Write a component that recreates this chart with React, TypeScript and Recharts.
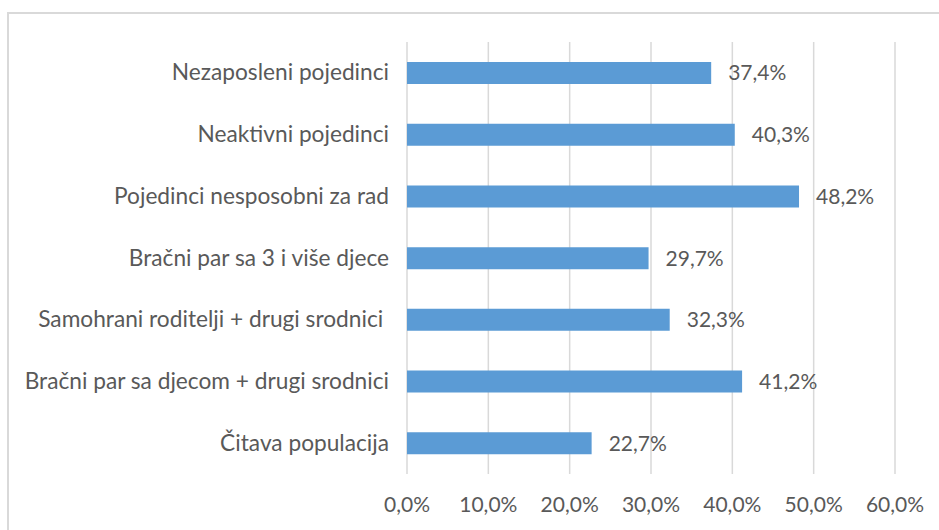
import { BarChart, Bar, XAxis, YAxis, CartesianGrid, LabelList } from "recharts";

const categories = [
  "Nezaposleni pojedinci",
  "Neaktivni pojedinci",
  "Pojedinci nesposobni za rad",
  "Bračni par sa 3 i više djece",
  "Samohrani roditelji + drugi srodnici ",
  "Bračni par sa djecom + drugi srodnici",
  "Čitava populacija",
];
const rates = [37.4, 40.3, 48.2, 29.7, 32.3, 41.2, 22.7];
const ticks = [0, 10, 20, 30, 40, 50, 60];

const data = categories.map((name, i) => ({ name, value: rates[i] }));

const fmt = (v: number) => v.toFixed(1).replace(".", ",") + "%";
const font = "Lato, 'Open Sans', sans-serif";
const textColor = "#595959";

const CategoryTick = (props: any) => {
  const { x, y, payload } = props;
  return (
    <text
      x={x - 10}
      y={y}
      dy={7.5}
      textAnchor="end"
      fill={textColor}
      fontSize={22.7}
      fontFamily={font}
      style={{ whiteSpace: "pre" }}
    >
      {payload.value}
    </text>
  );
};

export default function App() {
  return (
    <div style={{ position: "absolute", left: 0, top: 0, width: 939, height: 530, background: "#fff", overflow: "hidden" }}>
      <div
        style={{
          position: "absolute",
          left: 7,
          top: 12,
          width: 960,
          height: 560,
          border: "2px solid #d9d9d9",
          boxSizing: "border-box",
        }}
      />
      <div style={{ position: "absolute", left: 0, top: 0 }}>
        <BarChart
          width={939}
          height={530}
          data={data}
          layout="vertical"
          margin={{ top: 42, right: 44, bottom: 16, left: 0 }}
        >
          <CartesianGrid horizontal={false} stroke="#d9d9d9" strokeWidth={1.5} />
          <XAxis
            type="number"
            domain={[0, 60]}
            ticks={ticks}
            tickFormatter={fmt}
            axisLine={false}
            tickLine={false}
            height={40}
            tickMargin={17}
            tick={{ fill: textColor, fontSize: 21, fontFamily: font }}
            interval={0}
          />
          <YAxis
            type="category"
            dataKey="name"
            width={407}
            axisLine={false}
            tickLine={false}
            tick={<CategoryTick />}
            interval={0}
          />
          <Bar dataKey="value" fill="#5b9bd5" barSize={22} isAnimationActive={false}>
            <LabelList
              dataKey="value"
              position="right"
              offset={17}
              formatter={(v: any) => fmt(Number(v))}
              fill={textColor}
              fontSize={21}
              fontFamily={font}
            />
          </Bar>
        </BarChart>
      </div>
    </div>
  );
}
